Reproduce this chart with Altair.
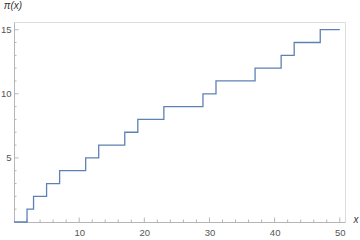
import altair as alt
import pandas as pd

# prime counting function pi(x) for 0..50
xs = [0, 2, 3, 5, 7, 11, 13, 17, 19, 23, 29, 31, 37, 41, 43, 47, 50]
ys = [0, 1, 2, 3, 4, 5, 6, 7, 8, 9, 10, 11, 12, 13, 14, 15, 15]

x_major = [10, 20, 30, 40, 50]
x_minor = [v for v in range(2, 51, 2) if v % 10 != 0]
y_major = [5, 10, 15]
y_minor = [v for v in range(1, 16) if v % 5 != 0]

W, H = 331, 200
AX = "#b5b5b5"
LAB = "#555555"
FONT = "Liberation Sans"

df = pd.DataFrame({"x": xs, "y": ys})
xscale = alt.Scale(domain=[0, 50.8], nice=False, zero=False)
yscale = alt.Scale(domain=[0, 15.6], nice=False, zero=False)

line = alt.Chart(df).mark_line(interpolate="step-after", color="#5E81B5", strokeWidth=1.3).encode(
    x=alt.X("x:Q", scale=xscale, title=None,
            axis=alt.Axis(values=x_major, ticks=False, grid=False, domainColor=AX, domainWidth=1,
                          labelColor=LAB, labelFont=FONT, labelFontSize=9.5, labelPadding=5)),
    y=alt.Y("y:Q", scale=yscale, title=None,
            axis=alt.Axis(values=y_major, ticks=False, grid=False, domainColor=AX, domainWidth=1,
                          labelColor=LAB, labelFont=FONT, labelFontSize=9.5, labelPadding=3)),
)

def xticks(vals, length):
    return alt.Chart(pd.DataFrame({"v": vals})).mark_rule(color=AX, strokeWidth=1).encode(
        x=alt.X("v:Q", scale=xscale), y=alt.value(H), y2=alt.value(H - length))

def yticks(vals, length):
    return alt.Chart(pd.DataFrame({"v": vals})).mark_rule(color=AX, strokeWidth=1).encode(
        y=alt.Y("v:Q", scale=yscale), x=alt.value(0), x2=alt.value(length))

xt = alt.Chart(pd.DataFrame({"t": ["x"]})).mark_text(
    font=FONT, fontStyle="italic", fontSize=10, color="#333333", align="center", baseline="middle"
).encode(text="t:N", x=alt.value(342), y=alt.value(H - 2))

yt = alt.Chart(pd.DataFrame({"t": ["π(x)"]})).mark_text(
    font=FONT, fontStyle="italic", fontSize=10, color="#333333", align="center", baseline="middle"
).encode(text="t:N", x=alt.value(-1), y=alt.value(-16))

chart = alt.layer(
    xticks(x_minor, 2.5), xticks(x_major, 4.5), yticks(y_minor, 2.5), yticks(y_major, 4.5), line, xt, yt
).properties(
    width=W, height=H, autosize=alt.AutoSizeParams(type="none"),
    padding={"left": 14, "top": 22, "right": 15, "bottom": 18},
).configure_view(stroke=None).configure(background="white")

chart.save("out.html", embed_options={"renderer": "svg", "actions": False})
